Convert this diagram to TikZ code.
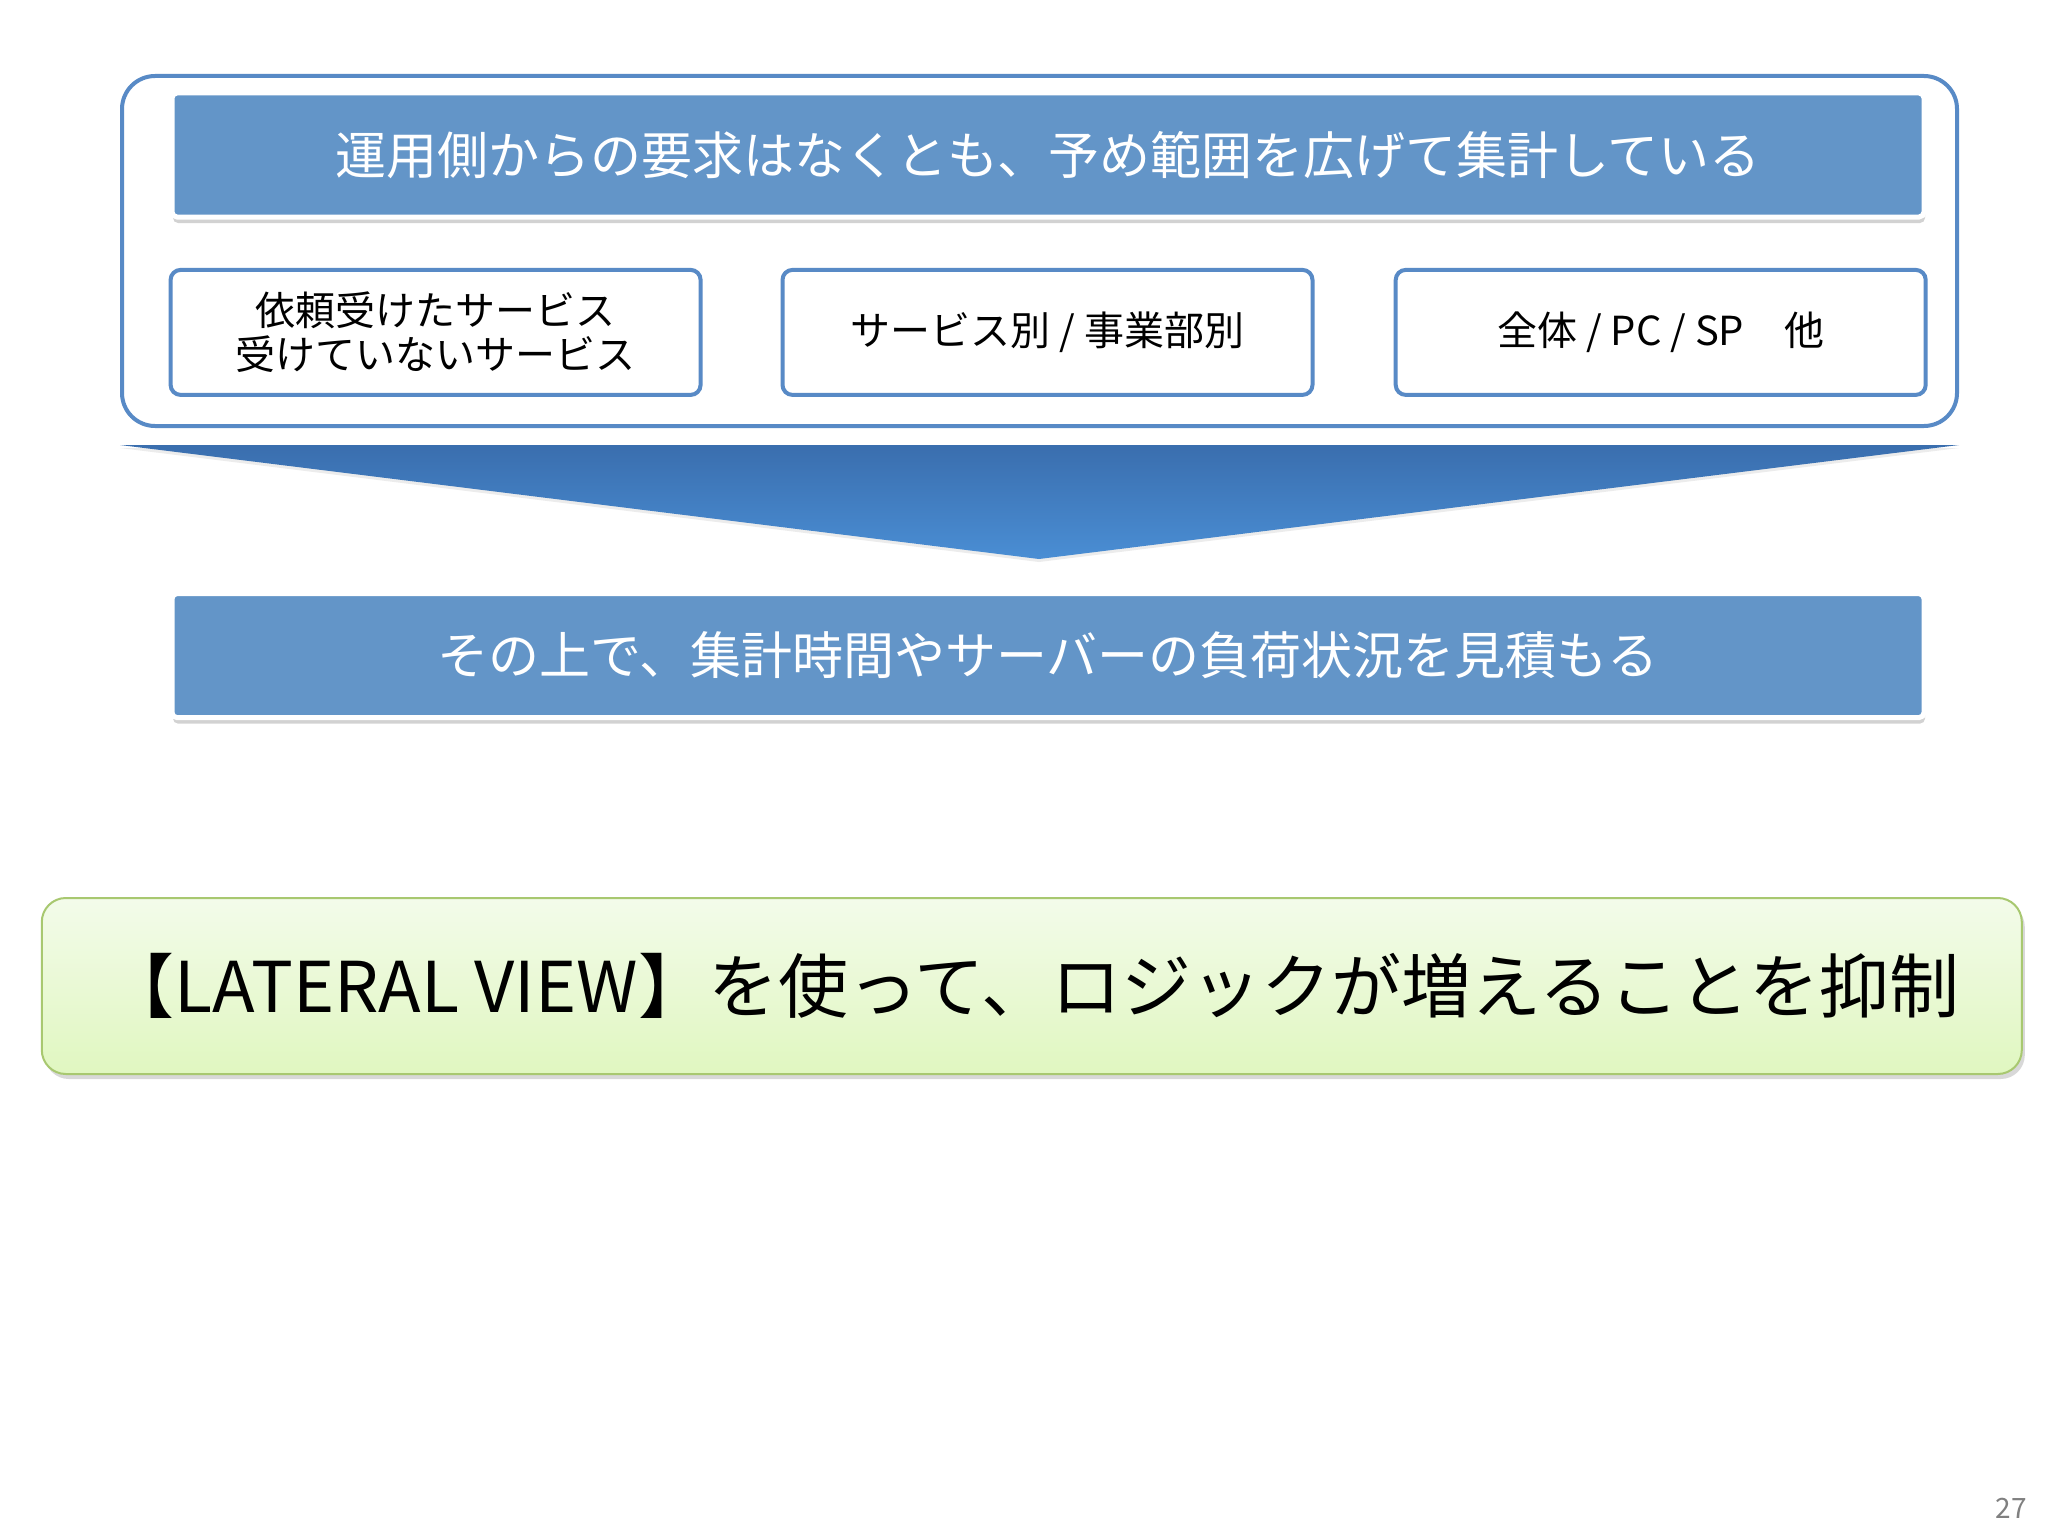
\documentclass[tikz,border=0pt]{standalone}
\usepackage{fontspec}
\setmainfont{Noto Sans CJK JP}
\usepackage{tikz}
\usetikzlibrary{shadows}

\definecolor{barblue}{RGB}{99,149,200}
\definecolor{frameblue}{RGB}{88,138,198}
\definecolor{arrowtop}{RGB}{58,110,174}
\definecolor{arrowbot}{RGB}{74,142,212}
\definecolor{noteedge}{RGB}{168,200,112}
\definecolor{notetop}{RGB}{243,251,234}
\definecolor{notebot}{RGB}{224,247,192}

\tikzset{
    bar/.style={
        fill=barblue, draw=white, line width=5pt, rounded corners=5pt,
        minimum width=1752pt, minimum height=124pt, text=white,
        font=\fontsize{51}{54}\selectfont,
        drop shadow={shadow xshift=1pt, shadow yshift=-6pt, opacity=0.35}
    },
    item/.style={
        draw=frameblue, line width=4pt, rounded corners=10pt, fill=white,
        minimum width=530pt, minimum height=125pt, align=center,
        font=\fontsize{40}{44}\selectfont
    }
}

\begin{document}
\begin{tikzpicture}[x=1pt, y=-1pt]
\useasboundingbox[fill=white] (0,0) rectangle (2048,1536);

% outer frame
\node[draw=frameblue, line width=4pt, rounded corners=33pt, fill=white,
    minimum width=1835pt, minimum height=350pt] (frame) at (1039.5,251) {};

\node[bar] (premise) at (1048,155)
    {運用側からの要求はなくとも、予め範囲を広げて集計している};

\node[item] (svcbox) at (435.6,332.4) {依頼受けたサービス\\受けていないサービス};
\node[item] (unitbox) at (1047.5,332.4) {サービス別 / 事業部別};
\node[item] (devbox) at (1660.7,332.4) {全体 / PC / SP　他};

% chevron
\shade[top color=arrowtop, bottom color=arrowbot,
    drop shadow={shadow xshift=0pt, shadow yshift=-3pt, opacity=0.15}]
    (120,445) -- (1959,445) -- (1039,559) -- cycle;

\node[bar] (estimate) at (1048,655.6)
    {その上で、集計時間やサーバーの負荷状況を見積もる};

\node[draw=noteedge, line width=2pt, rounded corners=24pt,
    top color=notetop, bottom color=notebot,
    minimum width=1980pt, minimum height=176pt,
    font=\fontsize{70}{74}\selectfont,
    drop shadow={shadow xshift=3pt, shadow yshift=-5pt, opacity=0.3}] (lateral) at (1031.8,986)
    {【LATERAL VIEW】を使って、ロジックが増えることを抑制};

\node[text=black!50, font=\fontsize{28}{30}\selectfont] (pageno) at (2011,1508) {27};
\end{tikzpicture}
\end{document}
